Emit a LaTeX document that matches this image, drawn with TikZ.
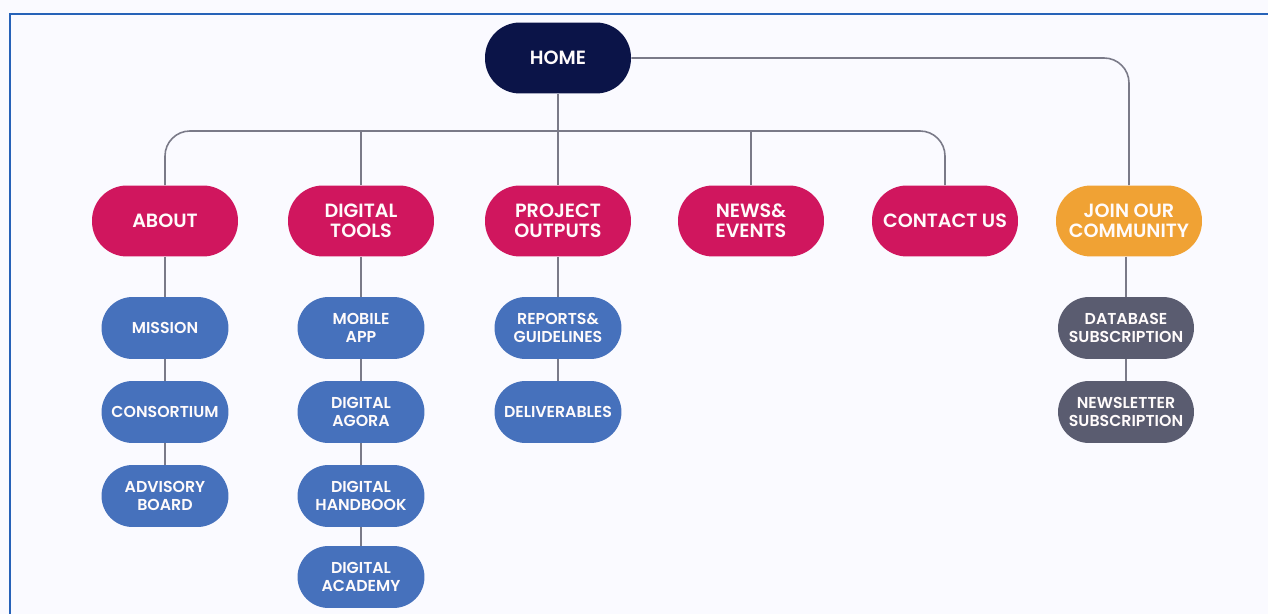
\documentclass[tikz,border=0pt]{standalone}
\usepackage{fontspec}
\setmainfont{Poppins}[BoldFont={Poppins SemiBold}]
\usepackage{xcolor}
\usepackage{tikz}

\definecolor{homenavy}{RGB}{11,20,72}
\definecolor{mainpink}{RGB}{208,22,94}
\definecolor{subblue}{RGB}{70,113,188}
\definecolor{subslate}{RGB}{90,92,112}
\definecolor{joinorange}{RGB}{240,162,52}
\definecolor{linkgray}{RGB}{122,122,136}
\definecolor{frameblue}{RGB}{38,98,184}

\tikzset{
  pill/.style={rectangle, rounded corners=0.7cm, inner sep=0pt, align=center,
    text=white!94!pink, font=\bfseries\fontsize{10.9}{11.6}\selectfont,
    minimum width=2.92cm, minimum height=1.42cm},
  subpill/.style={pill, rounded corners=0.62cm, font=\bfseries\fontsize{9}{9.8}\selectfont,
    minimum width=2.54cm, minimum height=1.24cm},
  link/.style={linkgray, line width=0.9pt}
}

\begin{document}
\begin{tikzpicture}[x=0.02cm, y=-0.02cm]
      % --- page background and the blue frame line ---
      \fill[white!98!blue] (0,0) rectangle (1268,614);
      \useasboundingbox (0,0) rectangle (1268,614);
      \draw[frameblue, line width=1.6pt] (10,614) -- (10,14) -- (1268,14);

      % --- top of the tree ---
      \node[pill, fill=homenavy] (home) at (558,58) {HOME};

      % --- main sections ---
      \node[pill, fill=mainpink]   (about)   at (165,221)  {ABOUT};
      \node[pill, fill=mainpink]   (tools)   at (361,221)  {DIGITAL\\TOOLS};
      \node[pill, fill=mainpink]   (outputs) at (558,221)  {PROJECT\\OUTPUTS};
      \node[pill, fill=mainpink]   (news)    at (751,221)  {NEWS\&\\EVENTS};
      \node[pill, fill=mainpink]   (contact) at (945,221)  {CONTACT US};
      \node[pill, fill=joinorange] (join)    at (1129,221) {JOIN OUR\\COMMUNITY};

      % --- sub pages, one column under each section ---
      \node[subpill, fill=subblue] (mission)    at (165,328) {MISSION};
      \node[subpill, fill=subblue] (consortium) at (165,412) {CONSORTIUM};
      \node[subpill, fill=subblue] (advisory)   at (165,496) {ADVISORY\\BOARD};

      \node[subpill, fill=subblue] (mobile)   at (361,328) {MOBILE\\APP};
      \node[subpill, fill=subblue] (agora)    at (361,412) {DIGITAL\\AGORA};
      \node[subpill, fill=subblue] (handbook) at (361,496) {DIGITAL\\HANDBOOK};
      \node[subpill, fill=subblue] (academy)  at (361,577) {DIGITAL\\ACADEMY};

      \node[subpill, fill=subblue] (reports)      at (558,328) {REPORTS\&\\GUIDELINES};
      \node[subpill, fill=subblue] (deliverables) at (558,412) {DELIVERABLES};

      \node[subpill, fill=subslate, minimum width=2.72cm] (database)   at (1126,328) {DATABASE\\SUBSCRIPTION};
      \node[subpill, fill=subslate, minimum width=2.72cm] (newsletter) at (1126,412) {NEWSLETTER\\SUBSCRIPTION};

      % --- bus line under HOME ---
      \coordinate (bus) at (558,131);
      \draw[link, rounded corners=0.5cm] (about.north) |- (bus) -| (contact.north);
      \draw[link] (home) -- (outputs);
      \draw[link] (tools.north) -- (tools.north |- bus);
      \draw[link] (news.north) -- (news.north |- bus);

      % --- side branch to the community section ---
      \draw[link, rounded corners=0.5cm] (home.east) -| (join.north);

      % --- columns ---
      \draw[link] (about) -- (mission) -- (consortium) -- (advisory);
      \draw[link] (tools) -- (mobile) -- (agora) -- (handbook) -- (academy);
      \draw[link] (outputs) -- (reports) -- (deliverables);
      \draw[link] (join.south -| database.north) -- (database.north);
      \draw[link] (database) -- (newsletter);
    \end{tikzpicture}
\end{document}
